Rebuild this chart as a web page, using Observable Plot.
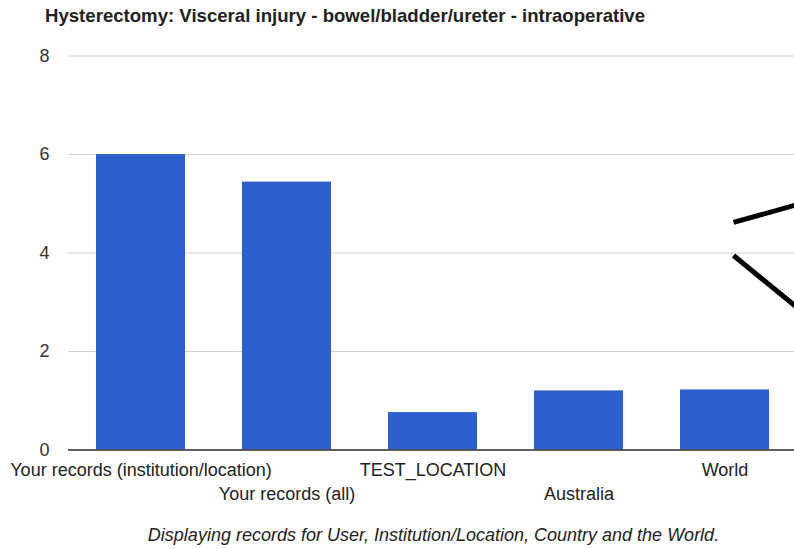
<!DOCTYPE html>
<html><head><meta charset="utf-8">
<script src="https://cdn.jsdelivr.net/npm/d3@7"></script>
<script src="https://cdn.jsdelivr.net/npm/@observablehq/plot@0.6"></script>
<style>
body{margin:0;background:#fff;}
#wrap{position:relative;width:794px;height:549px;overflow:hidden;font-family:"Liberation Sans",Arial,sans-serif;background:#fff;}
#title{position:absolute;left:45px;top:5px;font-weight:bold;font-size:18.6px;color:#222;white-space:nowrap;line-height:1.15;}
#caption{position:absolute;left:0;width:867px;top:525px;text-align:center;font-style:italic;font-size:18px;color:#222;white-space:nowrap;line-height:1.15;}
#wrap svg{position:absolute;left:0;top:0;}
</style></head><body>
<div id="wrap">
<div id="chart"></div>
<div id="title">Hysterectomy: Visceral injury - bowel/bladder/ureter - intraoperative</div>
<div id="caption">Displaying records for User, Institution/Location, Country and the World.</div>
</div>
<script>
const categories = ["Your records (institution/location)", "Your records (all)", "TEST_LOCATION", "Australia", "World"];
const values = [6.0, 5.44, 0.76, 1.20, 1.22];
const yTicks = [0, 2, 4, 6, 8];
// callout strokes (in category-index units on x, value units on y)
const calloutX1 = [4.555, 4.555];
const calloutY1 = [4.62, 3.95];
const calloutX2 = [5.0, 5.0];
const calloutY2 = [4.99, 2.87];

const rows = categories.map((c, i) => ({category: c, value: values[i]}));
const topRow = categories.filter((c, i) => i % 2 === 0);
const bottomRow = categories.filter((c, i) => i % 2 === 1);
const callouts = calloutX1.map((x, i) => ({x1: x, y1: calloutY1[i], x2: calloutX2[i], y2: calloutY2[i]}));

const W = 794, H = 549;
const xRange = [68, 798];
const yRange = [449.5, 55.5];
const font = "'Liberation Sans', Arial, sans-serif";

const main = Plot.plot({
  width: W, height: H,
  marginLeft: 68, marginRight: 0, marginTop: 55.5, marginBottom: 99.5,
  style: {fontFamily: font, background: "transparent", color: "#222"},
  x: {domain: categories, range: xRange, paddingInner: 0.39, paddingOuter: 0.195, axis: null},
  y: {domain: [0, 8], range: yRange, axis: null},
  marks: [
    Plot.gridY(yTicks, {stroke: "#cfcfcf", strokeOpacity: 1, strokeWidth: 1}),
    Plot.barY(rows, {x: "category", y: "value", fill: "#2f5fcc"}),
    Plot.ruleY([0], {stroke: "#333", strokeWidth: 1.5}),
    Plot.axisY(yTicks, {tickSize: 0, tickPadding: 19, fontSize: 18, fill: "#333", label: null}),
    Plot.axisX(topRow, {tickSize: 0, tickPadding: 13.5, fontSize: 18, fill: "#222", label: null}),
    Plot.axisX(bottomRow, {tickSize: 0, tickPadding: 37.5, fontSize: 18, fill: "#222", label: null})
  ]
});

const overlay = Plot.plot({
  width: W, height: H,
  marginLeft: 68, marginRight: 0, marginTop: 55.5, marginBottom: 99.5,
  style: {background: "transparent"},
  x: {type: "linear", domain: [0, 5], range: xRange, axis: null},
  y: {domain: [0, 8], range: yRange, axis: null},
  marks: [
    Plot.link(callouts, {x1: "x1", y1: "y1", x2: "x2", y2: "y2", stroke: "#000", strokeWidth: 5, strokeLinecap: "butt"})
  ]
});

document.getElementById("chart").append(main, overlay);
</script>
</body></html>
